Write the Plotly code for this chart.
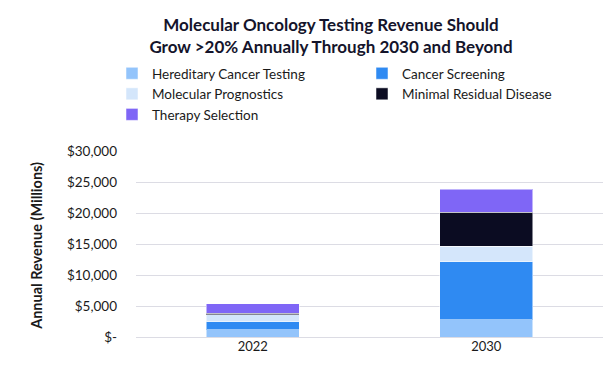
import plotly.graph_objects as go

years = ["2022", "2030"]
series_names = ["Hereditary Cancer Testing", "Cancer Screening", "Molecular Prognostics",
                "Minimal Residual Disease", "Therapy Selection"]
hereditary = [1200, 2750]
screening = [1300, 9400]
prognostics = [1100, 2450]
mrd = [200, 5550]
therapy = [1600, 3700]
colors = ["#93C4FB", "#2F8AF2", "#D4E6FB", "#0B0C22", "#7F66F6"]
legend_ids = ["legend", "legend2", "legend", "legend2", "legend"]

tick_vals = [0, 5000, 10000, 15000, 20000, 25000, 30000]
tick_text = ["$-", "$5,000", "$10,000", "$15,000", "$20,000", "$25,000", "$30,000"]

W, H = 606, 366

fig = go.Figure()
for name, vals, c, lg in zip(series_names, [hereditary, screening, prognostics, mrd, therapy], colors, legend_ids):
    fig.add_trace(go.Bar(x=years, y=vals, name=name, legend=lg,
                         marker=dict(color=c, line=dict(color="rgba(255,255,255,0.5)", width=1))))

leg_common = dict(orientation="v", xref="container", yref="container", xanchor="left", yanchor="top",
                  traceorder="normal", font=dict(size=13.5, color="#1a1a1a"), itemwidth=30,
                  tracegroupgap=0, bgcolor="rgba(0,0,0,0)")

fig.update_layout(
    width=W, height=H,
    barmode="stack", bargap=0.6,
    margin=dict(l=128, r=11, t=143, b=37, autoexpand=False),
    paper_bgcolor="white", plot_bgcolor="white",
    font=dict(family="Lato, sans-serif", color="#1a1a1a"),
    title=dict(text="<b>Molecular Oncology Testing Revenue Should<br>Grow >20% Annually Through 2030 and Beyond</b>",
               x=323 / W, xanchor="center", y=1 - 23 / H, yanchor="middle",
               font=dict(size=17, color="#14142B")),
    legend=dict(x=104 / W, y=1 - 50 / H, **leg_common),
    legend2=dict(x=354 / W, y=1 - 50 / H, **leg_common),
    showlegend=True,
    xaxis=dict(tickfont=dict(size=13, color="#1a1a1a"), showgrid=False, showline=False, ticks=""),
    yaxis=dict(range=[0, 30000], tickvals=tick_vals, ticktext=tick_text,
               tickfont=dict(size=13.5, color="#1a1a1a"), gridcolor="#DCDCE4", gridwidth=1,
               zeroline=True, zerolinecolor="#DCDCE4", zerolinewidth=1, ticklabelstandoff=18),
)
fig.add_annotation(text="<b>Annual Revenue (Millions)</b>", textangle=-90, xref="paper", yref="paper",
                   x=-99 / 467, y=0.49, xanchor="center", yanchor="middle", showarrow=False,
                   font=dict(size=14.5, color="#1a1a1a"))
fig.write_html("out.html")
